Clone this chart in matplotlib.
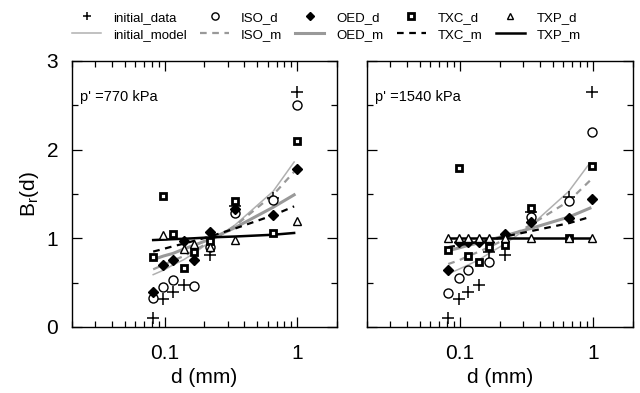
import numpy as np
import matplotlib
matplotlib.use('Agg')
import matplotlib.pyplot as plt
from matplotlib.ticker import LogLocator, NullFormatter, FixedLocator

plt.rcParams['font.family'] = ['Liberation Sans', 'DejaVu Sans']

nan = np.nan

# particle sizes (mm) for data points and model curves
d_data = [0.082, 0.098, 0.116, 0.14, 0.166, 0.22, 0.34, 0.66, 0.99]
d_model = [0.082, 0.098, 0.116, 0.14, 0.166, 0.22, 0.34, 0.66, 0.95]

# p' = 770 kPa
init_d_770 = [0.10, 0.32, 0.40, 0.47, nan, 0.81, 1.36, 1.45, 2.65]
iso_d_770 = [0.33, 0.45, 0.53, nan, 0.46, 0.90, 1.29, 1.43, 2.50]
oed_d_770 = [0.39, 0.70, 0.76, 0.97, 0.75, 1.07, 1.33, 1.26, 1.78]
txc_d_770 = [0.79, 1.48, 1.05, 0.67, 0.85, 0.97, 1.42, 1.06, 2.10]
txp_d_770 = [nan, 1.04, nan, 0.88, 0.93, 0.90, 0.98, nan, 1.19]

init_m_770 = [0.59, 0.64, 0.70, 0.76, 0.83, 0.96, 1.15, 1.53, 1.86]
iso_m_770 = [0.65, 0.70, 0.75, 0.80, 0.86, 0.96, 1.14, 1.49, 1.75]
oed_m_770 = [0.76, 0.80, 0.83, 0.88, 0.92, 0.99, 1.12, 1.35, 1.49]
txc_m_770 = [0.85, 0.88, 0.91, 0.94, 0.97, 1.02, 1.11, 1.26, 1.36]
txp_m_770 = [0.98, 0.985, 0.99, 0.995, 1.0, 1.01, 1.02, 1.04, 1.06]

# p' = 1540 kPa
init_d_1540 = [0.10, 0.32, 0.40, 0.47, 0.84, 0.81, 1.30, 1.47, 2.65]
iso_d_1540 = [0.38, 0.55, 0.64, nan, 0.73, nan, 1.24, 1.42, 2.20]
oed_d_1540 = [0.64, 0.96, 0.96, 0.96, 0.96, 1.05, 1.18, 1.23, 1.44]
txc_d_1540 = [0.87, 1.79, 0.80, 0.73, 0.90, 0.92, 1.34, 1.00, 1.81]
txp_d_1540 = [1.0, 1.0, 1.0, 1.0, 1.0, 1.0, 1.0, 1.0, 1.0]

init_m_1540 = [0.60, 0.65, 0.70, 0.76, 0.83, 0.94, 1.14, 1.53, 1.85]
iso_m_1540 = [0.71, 0.75, 0.80, 0.85, 0.90, 0.99, 1.15, 1.42, 1.65]
oed_m_1540 = [0.86, 0.89, 0.92, 0.95, 0.98, 1.03, 1.11, 1.24, 1.34]
txc_m_1540 = [0.90, 0.92, 0.94, 0.96, 0.98, 1.02, 1.08, 1.17, 1.24]
txp_m_1540 = [1.0, 1.0, 1.0, 1.0, 1.0, 1.0, 1.0, 1.0, 1.0]

panels = [
    ("p' =770 kPa", init_d_770, iso_d_770, oed_d_770, txc_d_770, txp_d_770,
     init_m_770, iso_m_770, oed_m_770, txc_m_770, txp_m_770),
    ("p' =1540 kPa", init_d_1540, iso_d_1540, oed_d_1540, txc_d_1540, txp_d_1540,
     init_m_1540, iso_m_1540, oed_m_1540, txc_m_1540, txp_m_1540),
]

fig = plt.figure(figsize=(6.4, 3.93), dpi=100)
ax_left = fig.add_axes([0.1125, 0.168, 0.414, 0.677])
ax_right = fig.add_axes([0.573, 0.168, 0.416, 0.677])

handles = None
for ax, p in zip([ax_left, ax_right], panels):
    label, i_d, s_d, o_d, c_d, t_d, i_m, s_m, o_m, c_m, t_m = p

    # model curves
    h_im, = ax.plot(d_model, i_m, color='#b0b0b0', lw=1.1)
    h_sm, = ax.plot(d_model, s_m, color='#999999', lw=1.6, ls=(0, (3, 2.5)))
    h_om, = ax.plot(d_model, o_m, color='#999999', lw=2.2)
    h_cm, = ax.plot(d_model, c_m, color='black', lw=1.6, ls=(0, (3, 2.5)))
    h_tm, = ax.plot(d_model, t_m, color='black', lw=1.8)

    # measured data
    h_id, = ax.plot(d_data, i_d, ls='none', marker='+', ms=8, mew=1.1, color='black')
    h_sd, = ax.plot(d_data, s_d, ls='none', marker='o', ms=6.5, mew=1.0,
                    mfc='white', mec='black')
    h_od, = ax.plot(d_data, o_d, ls='none', marker='D', ms=5, color='black')
    h_cd, = ax.plot(d_data, c_d, ls='none', marker='s', ms=5, mew=2.0,
                    mfc='white', mec='black')
    h_td, = ax.plot(d_data, t_d, ls='none', marker='^', ms=6, mew=1.0,
                    mfc='white', mec='black')

    ax.set_xscale('log')
    ax.set_xlim(0.02, 2)
    ax.set_ylim(0, 3)
    ax.xaxis.set_major_locator(FixedLocator([0.1, 1]))
    ax.set_xticklabels(['0.1', '1'])
    ax.xaxis.set_minor_locator(LogLocator(base=10, subs=np.arange(2, 10)))
    ax.xaxis.set_minor_formatter(NullFormatter())
    ax.set_yticks([0, 1, 2, 3])
    ax.set_yticks([0.5, 1.5, 2.5], minor=True)
    ax.tick_params(which='both', direction='in', top=True, right=True,
                   labelsize=15, width=0.9)
    ax.tick_params(axis='x', which='major', pad=12)
    ax.tick_params(axis='y', which='major', pad=10)
    ax.tick_params(which='major', length=7)
    ax.tick_params(which='minor', length=4)
    for s in ax.spines.values():
        s.set_linewidth(1.0)
    ax.set_xlabel('d (mm)', fontsize=15, labelpad=4)
    ax.text(0.03, 0.865, label, transform=ax.transAxes, fontsize=10.5, va='center')

    handles = [h_id, h_im, h_sd, h_sm, h_od, h_om, h_cd, h_cm, h_td, h_tm]

ax_right.set_yticklabels([])
ax_left.set_ylabel('B$_\\mathregular{r}$(d)', fontsize=15, labelpad=4)

labels = ['initial_data', 'initial_model', 'ISO_d', 'ISO_m', 'OED_d', 'OED_m',
          'TXC_d', 'TXC_m', 'TXP_d', 'TXP_m']
fig.legend(handles, labels, loc='upper center', bbox_to_anchor=(0.51, 1.0),
           ncol=5, frameon=False, fontsize=9.5, handlelength=2.2,
           columnspacing=1.0, handletextpad=0.9, labelspacing=0.35,
           markerscale=0.8)

fig.savefig('out.png', dpi=100)
